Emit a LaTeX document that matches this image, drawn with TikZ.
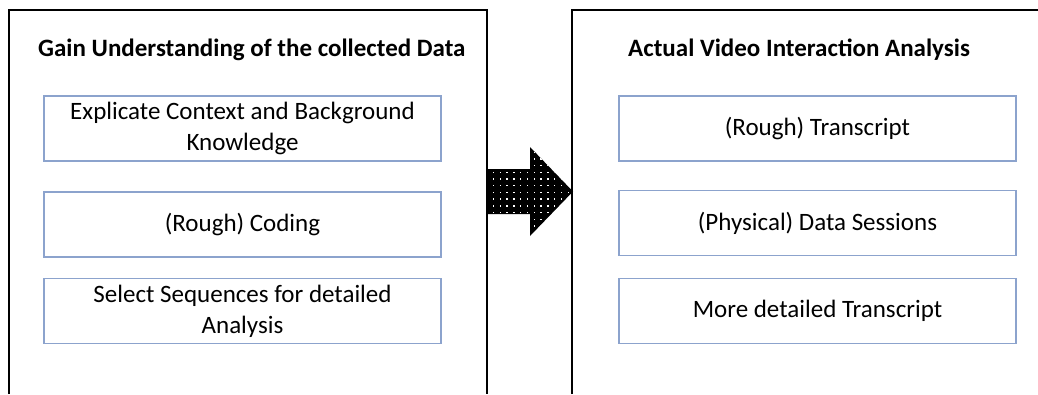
\documentclass[tikz,border=0pt]{standalone}
\usepackage{fontspec}
\setmainfont{Carlito}
\begin{document}
\begin{tikzpicture}[x=1pt,y=-1pt,
  panel/.style={line width=1.3pt,draw=black},
  stepbox/.style={draw={rgb,255:red,140;green,163;blue,205},line width=1.6pt,minimum width=397pt,minimum height=65pt,align=center,inner sep=0pt,font=\fontsize{25}{31}\selectfont},
  paneltitle/.style={anchor=west,font=\fontsize{25}{30}\selectfont\bfseries,inner sep=0pt}]
\useasboundingbox (0,0) rectangle (1038,394);
\fill[white] (0,0) rectangle (1038,394);
% panels
\draw[panel] (9,394) -- (9,10) -- (487,10) -- (487,394);
\draw[panel] (572,394) -- (572,10) -- (1038,10);
% titles
\node[paneltitle] (t1) at (38,50) {Gain Understanding of the collected Data};
\node[paneltitle] (t2) at (628,50) {Actual Video Interaction Analysis};
% left boxes
\node[stepbox] (a1) at (242.5,128.5) {Explicate Context and Background\\Knowledge};
\node[stepbox] (a2) at (242.5,224.5) {(Rough) Coding};
\node[stepbox] (a3) at (242.5,311) {Select Sequences for detailed\\Analysis};
% right boxes
\node[stepbox] (b1) at (817.5,128.5) {(Rough) Transcript};
\node[stepbox] (b2) at (817.5,223) {(Physical) Data Sessions};
\node[stepbox] (b3) at (817.5,311) {More detailed Transcript};
% arrow
\begin{scope}
\path[clip] (488,169) -- (530,169) -- (530,147) -- (573,191.5) -- (530,236) -- (530,214) -- (488,214) -- cycle;
\fill[black] (480,140) rectangle (580,240);
\foreach \r in {0,...,14}{
  \foreach \c in {0,...,13}{
    \pgfmathsetmacro{\xx}{493.5+\c*6.8}
    \pgfmathsetmacro{\yy}{145.5+\r*6.7}
    \fill[white] (\xx-0.7,\yy-0.7) rectangle (\xx+0.7,\yy+0.7);
  }
}
\end{scope}
\end{tikzpicture}
\end{document}
